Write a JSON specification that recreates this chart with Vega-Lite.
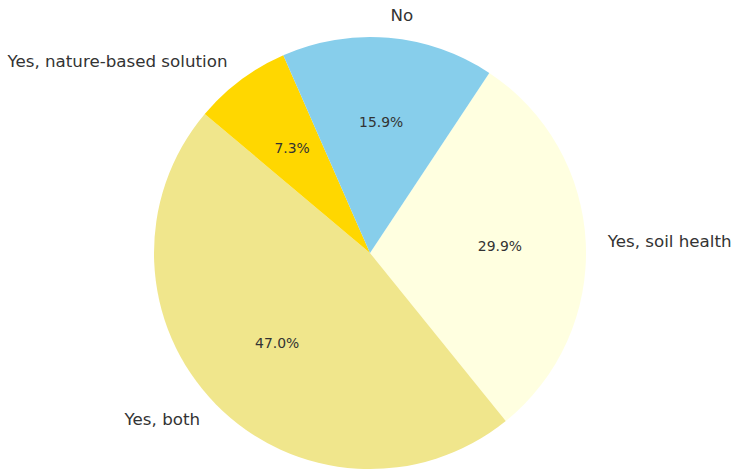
{
  "$schema": "https://vega.github.io/schema/vega-lite/v6.json",
  "autosize": {"type": "none"},
  "width": 724,
  "height": 432,
  "padding": {"left": 8, "right": 0, "top": 37, "bottom": 3},
  "background": "white",
  "config": {"view": {"stroke": null}, "font": "DejaVu Sans"},
  "data": {
    "values": [
      {"label": "Yes, soil health", "value": 29.9, "pct": "29.9%", "ord": 1},
      {"label": "Yes, both", "value": 47.0, "pct": "47.0%", "ord": 2},
      {"label": "Yes, nature-based solution", "value": 7.3, "pct": "7.3%", "ord": 3},
      {"label": "No", "value": 15.9, "pct": "15.9%", "ord": 4}
    ]
  },
  "encoding": {
    "theta": {"field": "value", "type": "quantitative", "stack": true, "scale": {"range": [0.585, 6.8682]}},
    "order": {"field": "ord", "type": "quantitative"}
  },
  "layer": [
    {
      "mark": {"type": "arc", "outerRadius": 216},
      "encoding": {
        "color": {
          "field": "label",
          "type": "nominal",
          "legend": null,
          "scale": {
            "domain": ["Yes, soil health", "Yes, both", "Yes, nature-based solution", "No"],
            "range": ["#FFFFE0", "#F0E68C", "#FFD700", "#87CEEB"]
          }
        }
      }
    },
    {
      "mark": {"type": "text", "radius": 130, "fontSize": 13.9, "color": "#333333", "align": "center", "baseline": "middle"},
      "encoding": {"text": {"field": "pct"}}
    },
    {
      "mark": {"type": "text", "radius": 238, "fontSize": 16.7, "color": "#333333", "align": "left", "baseline": "middle"},
      "encoding": {
        "text": {"condition": {"test": "datum.label == 'Yes, soil health' || datum.label == 'No'", "field": "label"}, "value": ""}
      }
    },
    {
      "mark": {"type": "text", "radius": 238, "fontSize": 16.7, "color": "#333333", "align": "right", "baseline": "middle"},
      "encoding": {
        "text": {"condition": {"test": "datum.label == 'Yes, both' || datum.label == 'Yes, nature-based solution'", "field": "label"}, "value": ""}
      }
    }
  ]
}
